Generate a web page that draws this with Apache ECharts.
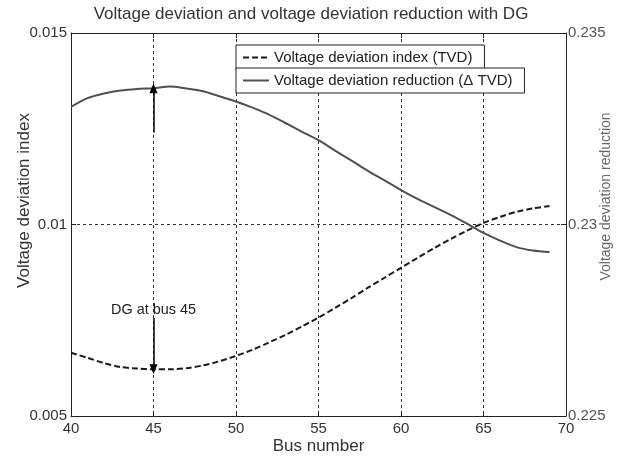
<!DOCTYPE html>
<html>
<head>
<meta charset="utf-8">
<title>Voltage deviation</title>
<script src="https://cdn.jsdelivr.net/npm/echarts@6/dist/echarts.min.js"></script>
<style>
  html, body { margin: 0; padding: 0; background: #fff; }
  #main { width: 622px; height: 462px; }
</style>
</head>
<body>
<div id="main"></div>
<script>
// bus numbers on the x axis
const buses = [40, 41, 42, 43, 44, 45, 46, 47, 48, 49, 50, 51, 52, 53, 54,
  55, 56, 57, 58, 59, 60, 61, 62, 63, 64, 65, 66, 67, 68, 69];
// voltage deviation index (TVD), left axis
const tvd = [0.00665, 0.00652, 0.00638, 0.00628, 0.00624, 0.00622, 0.00622, 0.00625, 0.00632, 0.00643,
  0.00657, 0.00673, 0.00692, 0.00712, 0.00734, 0.00757, 0.00782, 0.00808, 0.00835, 0.00861,
  0.00887, 0.00913, 0.00938, 0.00962, 0.00984, 0.01004, 0.0102, 0.01033, 0.01042, 0.01048];
// voltage deviation reduction (delta TVD), right axis
const deltaTvd = [0.23307, 0.2333, 0.23342, 0.2335, 0.23354, 0.23356, 0.2336, 0.23355, 0.23348, 0.23335,
  0.23321, 0.23305, 0.23287, 0.23265, 0.23242, 0.2322, 0.23193, 0.23167, 0.2314, 0.23115,
  0.2309, 0.23067, 0.23046, 0.23025, 0.23002, 0.22978, 0.22958, 0.22941, 0.22932, 0.22928];
// annotation: DG placed at bus 45
const dgBus = 45;
const arrowUp = [0.2324, 0.23356];     // right axis units
const arrowDown = [0.00756, 0.00622];  // left axis units
const dgLabelY = 0.00777;

const font = '"Liberation Sans", Arial, sans-serif';
const ink = '#222';

function pairs(ys) {
  return buses.map((b, i) => [b, ys[i]]);
}

const chart = echarts.init(document.getElementById('main'), null, { renderer: 'canvas' });

const gridDash = { color: '#333', width: 1, type: [3, 3] };
const tickIn = { show: true, inside: true, length: 5, lineStyle: { color: ink } };

// legend box, MATLAB style (one box per entry)
function legendBox(name, top) {
  return {
    data: [name],
    left: 236, top: top,
    orient: 'vertical',
    padding: [5, 12, 5, 6],
    itemWidth: 26, itemHeight: 14,
    itemStyle: { opacity: 0 },   // hide the symbol, keep the line
    borderColor: ink, borderWidth: 1, borderRadius: 0,
    backgroundColor: '#fff',
    selectedMode: false,
    textStyle: { fontFamily: font, fontSize: 15, color: ink }
  };
}

const option = {
  animation: false,
  backgroundColor: '#fff',
  textStyle: { fontFamily: font },
  title: {
    text: 'Voltage deviation and voltage deviation reduction with DG',
    left: 'center',
    top: 1,
    textStyle: { fontFamily: font, fontSize: 17, fontWeight: 'normal', color: '#333' }
  },
  legend: [
    legendBox('Voltage deviation index (TVD)', 45),
    legendBox('Voltage deviation reduction (Δ TVD)', 68)
  ],
  grid: { left: 71, right: 56, top: 33, bottom: 46, containLabel: false, outerBoundsMode: 'none' },
  xAxis: [{
    type: 'value',
    min: 40, max: 70, interval: 5,
    name: 'Bus number',
    nameLocation: 'middle',
    nameGap: 22,
    nameMoveOverlap: false,
    nameTextStyle: { fontFamily: font, fontSize: 17, color: '#333' },
    axisLine: { show: true, lineStyle: { color: ink, width: 1 } },
    axisTick: tickIn,
    axisLabel: { margin: 5, fontFamily: font, fontSize: 15, color: '#333' },
    splitLine: { show: true, lineStyle: gridDash }
  }, {
    // top frame edge with ticks
    type: 'value', position: 'top',
    min: 40, max: 70, interval: 5,
    axisLine: { show: true, lineStyle: { color: ink, width: 1 } },
    axisTick: tickIn,
    axisLabel: { show: false },
    splitLine: { show: false }
  }],
  yAxis: [{
    type: 'value',
    min: 0.005, max: 0.015, interval: 0.005,
    name: 'Voltage deviation index',
    nameLocation: 'middle',
    nameGap: 38,
    nameMoveOverlap: false,
    nameTextStyle: { fontFamily: font, fontSize: 17, color: '#333', padding: [0, 0, 0, 48] },
    axisLine: { show: true, lineStyle: { color: ink, width: 1 } },
    axisTick: tickIn,
    axisLabel: {
      margin: 4, fontFamily: font, fontSize: 15, color: '#333',
      formatter: v => String(+v.toFixed(3))
    },
    splitLine: { show: true, lineStyle: gridDash }
  }, {
    type: 'value',
    position: 'right',
    min: 0.225, max: 0.235, interval: 0.005,
    name: 'Voltage deviation reduction',
    nameLocation: 'middle',
    nameGap: 33,
    nameMoveOverlap: false,
    nameTextStyle: { fontFamily: font, fontSize: 14, color: '#666', padding: [0, 0, 0, 56] },
    axisLine: { show: true, lineStyle: { color: ink, width: 1 } },
    axisTick: tickIn,
    axisLabel: {
      margin: 2, fontFamily: font, fontSize: 15, color: '#555',
      formatter: v => String(+v.toFixed(3))
    },
    splitLine: { show: false }
  }],
  series: [{
    name: 'Voltage deviation index (TVD)',
    type: 'line',
    xAxisIndex: 0, yAxisIndex: 0,
    data: pairs(tvd),
    showSymbol: false, symbol: 'none',
    smooth: 0.3,
    color: '#1a1a1a',
    lineStyle: { color: '#1a1a1a', width: 2, type: [6, 3] },
    markLine: {
      silent: true,
      symbol: ['none', 'triangle'],
      symbolSize: [8, 10],
      label: { show: false },
      lineStyle: { color: '#000', width: 1.5, type: 'solid' },
      data: [[{ coord: [dgBus, arrowDown[0]] }, { coord: [dgBus, arrowDown[1]] }]]
    },
    markPoint: {
      silent: true,
      symbol: 'rect', symbolSize: 1,
      itemStyle: { color: 'rgba(0,0,0,0)' },
      label: {
        show: true, position: 'inside',
        formatter: 'DG at bus ' + dgBus,
        fontFamily: font, fontSize: 14.4, color: ink
      },
      data: [{ coord: [dgBus, dgLabelY] }]
    }
  }, {
    name: 'Voltage deviation reduction (Δ TVD)',
    type: 'line',
    xAxisIndex: 0, yAxisIndex: 1,
    data: pairs(deltaTvd),
    showSymbol: false, symbol: 'none',
    smooth: 0.3,
    color: '#505050',
    lineStyle: { color: '#505050', width: 2, type: 'solid' },
    markLine: {
      silent: true,
      symbol: ['none', 'triangle'],
      symbolSize: [8, 10],
      label: { show: false },
      lineStyle: { color: '#000', width: 1.5, type: 'solid' },
      data: [[{ coord: [dgBus, arrowUp[0]] }, { coord: [dgBus, arrowUp[1]] }]]
    }
  }]
};

chart.setOption(option);
</script>
</body>
</html>
